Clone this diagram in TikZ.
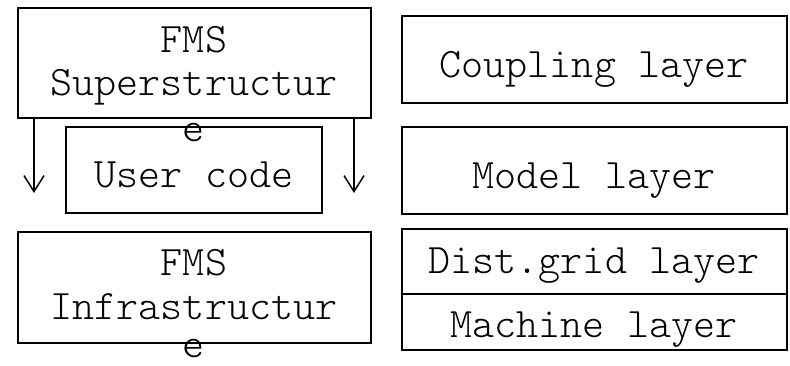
\documentclass[tikz,border=0pt]{standalone}
\usepackage{fontspec}
\usetikzlibrary{arrows.meta}
\begin{document}
\begin{tikzpicture}[x=0.5pt,y=-0.5pt,
  box/.style={draw,line width=0.75pt,inner sep=0pt,outer sep=0pt},
  lbl/.style={anchor=base,inner sep=0pt,font=\ttfamily\fontseries{l}\fontsize{21}{24}\selectfont},
  arr/.style={line width=0.75pt,-{Straight Barb[length=8pt,width=10pt,line width=0.75pt]}}]
\useasboundingbox (0,0) rectangle (790,365);
% left column
\node[box,minimum width=176.5pt,minimum height=55pt] (super) at (194.5,63) {};
\node[box,minimum width=128pt,minimum height=43pt] (user) at (194,170) {};
\node[box,minimum width=176.5pt,minimum height=55.5pt] (infra) at (194.5,287.5) {};
\node[lbl] (t1) at (194,52) {FMS};
\node[lbl] (t2) at (194,95) {Superstructur};
\node[lbl] (t3) at (194,141) {e};
\node[lbl] (t4) at (194,187) {User code};
\node[lbl] (t5) at (194,275) {FMS};
\node[lbl] (t6) at (194,319) {Infrastructur};
\node[lbl] (t7) at (194,357) {e};
% arrows
\coordinate (la) at (34,193);
\coordinate (ra) at (354,193);
\draw[arr] (super.south -| la) -- (la);
\draw[arr] (super.south -| ra) -- (ra);
% right column
\node[box,minimum width=192.5pt,minimum height=43.5pt] (coup) at (594.5,59.5) {};
\node[box,minimum width=192.5pt,minimum height=43.5pt] (model) at (594.5,170.5) {};
\node[box,minimum width=192.5pt,minimum height=32.5pt] (dist) at (594.5,261.5) {};
\node[box,minimum width=192.5pt,minimum height=28pt] (mach) at (594.5,322) {};
\node[lbl] (t8) at (594,77) {Coupling layer};
\node[lbl] (t9) at (594,188) {Model layer};
\node[lbl] (t10) at (594,273) {Dist.grid layer};
\node[lbl] (t11) at (594,337) {Machine layer};
\end{tikzpicture}
\end{document}
